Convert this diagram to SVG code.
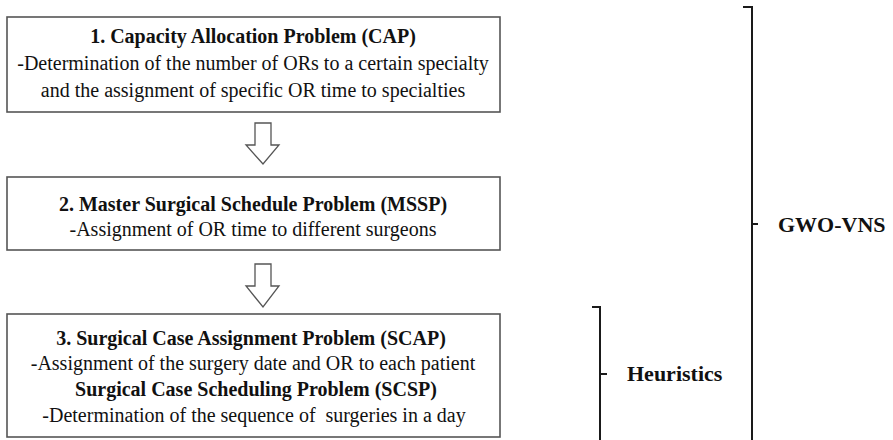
<svg xmlns="http://www.w3.org/2000/svg" width="893" height="440" viewBox="0 0 893 440">
  <style>
    .box { fill: #ffffff; stroke: #555555; stroke-width: 1.6; }
    .arrow { fill: #ffffff; stroke: #555555; stroke-width: 1.3; stroke-linejoin: miter; }
    .bracket { fill: none; stroke: #1a1a1a; stroke-width: 2; }
    .t { font-size: 20px; font-weight: bold; text-anchor: middle; fill: #111111; }
    .d { font-size: 20px; text-anchor: middle; fill: #111111; }
    .lbl { font-size: 22px; font-weight: bold; fill: #111111; }
  </style>
  <rect width="893" height="440" fill="#ffffff"/>

  <g id="diagram" font-family="'Liberation Serif', 'DejaVu Serif', serif">
  <g id="cap">
    <rect class="box" x="7" y="17" width="493" height="95"/>
    <text class="t" x="253" y="43">1. Capacity Allocation Problem (CAP)</text>
    <text class="d" x="253" y="70">-Determination of the number of ORs to a certain specialty</text>
    <text class="d" x="253" y="97">and the assignment of specific OR time to specialties</text>
  </g>

  <g id="mssp">
    <rect class="box" x="7" y="177" width="493" height="73"/>
    <text class="t" x="253" y="211">2. Master Surgical Schedule Problem (MSSP)</text>
    <text class="d" x="253" y="236">-Assignment of OR time to different surgeons</text>
  </g>

  <g id="scap">
    <rect class="box" x="7" y="314" width="493" height="123"/>
    <text class="t" x="251" y="345">3. Surgical Case Assignment Problem (SCAP)</text>
    <text class="d" x="253" y="370">-Assignment of the surgery date and OR to each patient</text>
    <text class="t" x="256" y="396">Surgical Case Scheduling Problem (SCSP)</text>
    <text class="d" x="254" y="422" xml:space="preserve">-Determination of the sequence of  surgeries in a day</text>
  </g>

  <g id="connectors">
    <path class="arrow" d="M255,123 L271,123 L271,145 L279,145 L263,164 L246,145 L255,145 Z"/>
    <path class="arrow" d="M255,264 L271,264 L271,286 L279,286 L263,307 L246,286 L255,286 Z"/>
  </g>

  <g id="gwo-vns">
    <path class="bracket" d="M743,7 L752,7 L752,440 M752,224 L758,224"/>
    <text class="lbl" x="778" y="232">GWO-VNS</text>
  </g>

  <g id="heuristics">
    <path class="bracket" d="M592,307 L600,307 L600,440 M600,374 L607,374"/>
    <text class="lbl" x="627" y="381">Heuristics</text>
  </g>
  </g>
</svg>
